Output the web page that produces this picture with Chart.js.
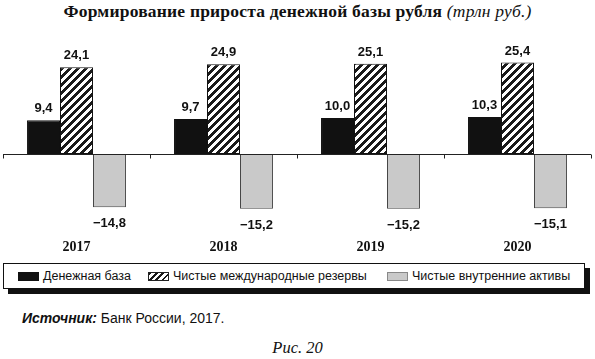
<!DOCTYPE html>
<html>
<head>
<meta charset="utf-8">
<script src="https://cdn.jsdelivr.net/npm/chart.js@4/dist/chart.umd.min.js"></script>
<style>
  html, body { margin: 0; padding: 0; background: #fff; }
  body { width: 595px; height: 359px; position: relative; overflow: hidden; }
  #title { position: absolute; left: 0; top: 1px; width: 595px; text-align: center;
    font-family: "Liberation Serif", "Times New Roman", serif; font-weight: bold; font-size: 17.5px; letter-spacing: 0.2px; color: #111; white-space: nowrap; }
  #title i { font-weight: normal; }
  #wrap { position: absolute; left: 0; top: 0; width: 595px; height: 262px; }
  #legend { position: absolute; left: 3px; top: 263px; width: 580px; height: 24px; border: 1px solid #111;
    box-shadow: 5px 5px 0 #111; background: #fff; font-family: "Liberation Sans Narrow", "Liberation Sans", Arial, sans-serif;
    font-size: 12.5px; color: #111; }
  .item { position: absolute; top: 0; height: 24px; line-height: 24px; white-space: nowrap; }
  .sw { position: absolute; top: 8px; width: 21px; height: 9px; box-sizing: border-box; }
  #source { position: absolute; left: 22px; top: 310px; font-family: "Liberation Sans Narrow", "Liberation Sans", Arial, sans-serif; font-size: 14px; color: #111; white-space: nowrap; }
  #source b { font-style: italic; }
  #fig { position: absolute; left: 0; width: 595px; text-align: center; top: 338px; font-family: "Liberation Serif", serif; font-style: italic; font-size: 16.5px; color: #111; }
</style>
</head>
<body>
<div id="title">Формирование прироста денежной базы рубля <i>(трлн руб.)</i></div>
<div id="wrap"><canvas id="c"></canvas></div>
<div id="legend"></div>
<div id="source"><b>Источник:</b> Банк России, 2017.</div>
<div id="fig">Рис. 20</div>
<script>
const categories = ["2017", "2018", "2019", "2020"];
const seriesNames = ["Денежная база", "Чистые международные резервы", "Чистые внутренние активы"];
const moneyBase = [9.4, 9.7, 10.0, 10.3];
const netIntlReserves = [24.1, 24.9, 25.1, 25.4];
const netDomesticAssets = [-14.8, -15.2, -15.2, -15.1];

function makeHatch() {
  const s = 8;
  const c = document.createElement('canvas');
  c.width = s; c.height = s;
  const g = c.getContext('2d');
  g.fillStyle = '#fff';
  g.fillRect(0, 0, s, s);
  g.fillStyle = '#1a1a1a';
  for (let y = 0; y < s; y++) {
    for (let x = 0; x < s; x++) {
      if (((x + y) % s) < 4) g.fillRect(x, y, 1, 1);
    }
  }
  return g.createPattern(c, 'repeat');
}
const ctx = document.getElementById('c').getContext('2d');
const hatch = makeHatch();

const fmt = v => (v < 0 ? '\u2212' : '') + Math.abs(v).toFixed(1).replace('.', ',');

const axisPlugin = {
  id: 'zeroAxis',
  afterDatasetsDraw(chart) {
    const x = chart.scales.x, y = chart.scales.y;
    const g = chart.ctx;
    const y0 = Math.round(y.getPixelForValue(0)) + 0.5;
    g.save();
    g.strokeStyle = '#222';
    g.lineWidth = 1;
    g.beginPath();
    g.moveTo(x.left, y0); g.lineTo(x.right, y0);
    const n = chart.data.labels.length;
    for (let i = 0; i <= n; i++) {
      const px = Math.round(x.left + (x.right - x.left) * i / n) + 0.5;
      g.moveTo(px, y0); g.lineTo(px, y0 + 4);
    }
    g.stroke();
    g.fillStyle = '#111';
    g.font = 'bold 13px "Liberation Sans Narrow", "Liberation Sans", Arial, sans-serif';
    g.textAlign = 'center';
    chart.data.datasets.forEach((ds, di) => {
      const meta = chart.getDatasetMeta(di);
      meta.data.forEach((el, i) => {
        const v = ds.data[i];
        if (v >= 0) { g.textBaseline = 'bottom'; g.fillText(fmt(v), el.x, el.y - 5); }
        else { g.textBaseline = 'top'; g.fillText(fmt(v), el.x, el.y + 10); }
      });
    });
    g.restore();
  }
};

new Chart(ctx, {
  type: 'bar',
  data: {
    labels: categories,
    datasets: [
      { label: seriesNames[0], data: moneyBase, backgroundColor: '#111', borderColor: '#111', borderWidth: 1, borderSkipped: false },
      { label: seriesNames[1], data: netIntlReserves, backgroundColor: hatch, borderColor: '#111', borderWidth: 1, borderSkipped: false },
      { label: seriesNames[2], data: netDomesticAssets, backgroundColor: '#c9c9c9', borderColor: '#444', borderWidth: 1, borderSkipped: false }
    ]
  },
  options: {
    responsive: true,
    maintainAspectRatio: false,
    animation: false,
    events: [],
    layout: { padding: { left: 3, right: 4, top: 46, bottom: 0 } },
    plugins: { legend: { display: false }, tooltip: { enabled: false }, title: { display: false } },
    datasets: { bar: { categoryPercentage: 0.673, barPercentage: 1.0 } },
    scales: {
      x: {
        grid: { display: false, drawTicks: false },
        border: { display: false },
        ticks: { color: '#111', padding: 5, font: { family: '"Liberation Serif", "Times New Roman", serif', weight: 'bold', size: 14 } },
        afterFit: s => { s.height = 28; }
      },
      y: {
        display: false,
        min: -22.22,
        max: 30
      }
    }
  },
  plugins: [axisPlugin]
});

const legend = document.getElementById('legend');
const items = [
  { name: seriesNames[0], sw: 'background:#111;', sx: 14, tx: 39 },
  { name: seriesNames[1], sw: 'border:1px solid #222;background:repeating-linear-gradient(135deg,#1a1a1a 0 2px,#fff 2px 4.5px);', sx: 144, tx: 169 },
  { name: seriesNames[2], sw: 'border:1px solid #888;background:#c9c9c9;', sx: 383, tx: 408 }
];
items.forEach(it => {
  const sw = document.createElement('div');
  sw.className = 'sw'; sw.style.cssText = it.sw + 'left:' + it.sx + 'px;';
  legend.appendChild(sw);
  const t = document.createElement('div');
  t.className = 'item'; t.style.left = it.tx + 'px'; t.textContent = it.name;
  legend.appendChild(t);
});
</script>
</body>
</html>
